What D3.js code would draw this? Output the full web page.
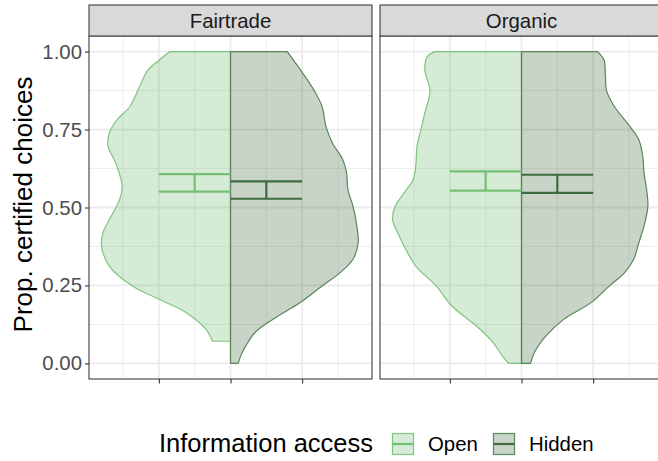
<!DOCTYPE html>
<html lang="en">
<head>
<meta charset="utf-8">
<title>Certified choices</title>
<script src="https://d3js.org/d3.v7.min.js"></script>
<style>
  body { margin: 0; background: #fff; }
  svg { display: block; font-family: "Liberation Sans", Arial, sans-serif; }
</style>
</head>
<body>
<div id="chart"></div>
<script>
  // facets and groups
  const panels = ["Fairtrade", "Organic"];
  const groups = ["Open", "Hidden"];

  // violin outlines: [proportion, relative density], top to bottom
  const fairtradeOpen = [
    [1.000, .47], [0.970, .56], [0.941, .64], [0.883, .71], [0.824, .78], [0.781, .88],
    [0.739, .94], [0.696, .95], [0.660, .91], [0.632, .88], [0.568, .84], [0.525, .86],
    [0.461, .94], [0.418, .99], [0.376, 1.0], [0.312, .94], [0.248, .76], [0.205, .55],
    [0.162, .34], [0.109, .19], [0.071, .14]
  ];
  const fairtradeHidden = [
    [1.000, .44], [0.931, .56], [0.874, .65], [0.824, .71], [0.760, .74], [0.707, .79],
    [0.654, .87], [0.611, .90], [0.558, .91], [0.504, .95], [0.440, .98], [0.387, .99],
    [0.334, .95], [0.291, .85], [0.248, .71], [0.195, .54], [0.142, .33], [0.099, .19],
    [0.057, .12], [0.025, .08], [0.000, .06]
  ];
  const organicOpen = [
    [1.000, .67], [0.984, .73], [0.941, .75], [0.874, .71], [0.803, .75], [0.749, .78],
    [0.696, .81], [0.632, .82], [0.590, .84], [0.547, .91], [0.504, .98], [0.462, 1.0],
    [0.419, .96], [0.376, .91], [0.312, .82], [0.248, .66], [0.184, .54], [0.120, .35],
    [0.067, .22], [0.025, .15], [0.000, .10]
  ];
  const organicHidden = [
    [1.000, .59], [0.973, .64], [0.931, .65], [0.874, .66], [0.824, .72], [0.760, .84],
    [0.717, .91], [0.664, .94], [0.611, .95], [0.558, .97], [0.504, .98], [0.440, .95],
    [0.387, .91], [0.334, .87], [0.291, .80], [0.248, .68], [0.195, .54], [0.142, .33],
    [0.088, .19], [0.035, .10], [0.000, .07]
  ];
  const violins = [[fairtradeOpen, fairtradeHidden], [organicOpen, organicHidden]];

  // error bars (per panel: Open, Hidden)
  const barLower = [[0.551, 0.528], [0.554, 0.547]];
  const barUpper = [[0.607, 0.584], [0.616, 0.605]];

  const yTicks = [0, 0.25, 0.5, 0.75, 1];
  const yMinor = [0.125, 0.375, 0.625, 0.875];
  const xTicks = [-1, 0, 1];
  const xMinor = [-1.5, -0.5, 0.5, 1.5];

  const width = 658, height = 461;
  const panelTop = 36, panelBottom = 379, panelW = 283, stripTop = 5;
  const panelLeft = [89, 380];
  const halfWidth = 1.8;

  const fillCol = { Open: "rgba(100,180,100,0.27)", Hidden: "rgba(60,100,60,0.28)" };
  const lineCol = { Open: "#7fc47f", Hidden: "#5a865a" };
  const barCol = { Open: "#74bf74", Hidden: "#3f6b3f" };

  const svg = d3.select("#chart").append("svg")
    .attr("width", width)
    .attr("height", height);

  const y = d3.scaleLinear().domain([-0.05, 1.05]).range([panelBottom, panelTop]);
  const x = d3.scaleLinear().domain([-1.975, 1.975]).range([0, panelW]);

  function violinPath(pts, side) {
    const line = d3.line()
      .x(d => x(side * d[1] * halfWidth))
      .y(d => y(d[0]))
      .curve(d3.curveCatmullRom);
    const top = pts[0][0], bot = pts[pts.length - 1][0];
    return "M" + x(0) + "," + y(top) + line(pts).replace(/^M/, "L") +
      "L" + x(0) + "," + y(bot) + "Z";
  }

  panels.forEach(function(name, i) {
    const g = svg.append("g").attr("transform", "translate(" + panelLeft[i] + ",0)");

    g.append("rect")
      .attr("x", 0).attr("y", panelTop)
      .attr("width", panelW).attr("height", panelBottom - panelTop)
      .attr("fill", "#fff");

    // grid
    g.selectAll(".hminor").data(yMinor).enter().append("line")
      .attr("x1", 0).attr("x2", panelW)
      .attr("y1", d => y(d)).attr("y2", d => y(d))
      .attr("stroke", "#ebebeb").attr("stroke-width", 0.9);
    g.selectAll(".vminor").data(xMinor).enter().append("line")
      .attr("x1", d => x(d)).attr("x2", d => x(d))
      .attr("y1", panelTop).attr("y2", panelBottom)
      .attr("stroke", "#ebebeb").attr("stroke-width", 0.9);
    g.selectAll(".hmajor").data(yTicks).enter().append("line")
      .attr("x1", 0).attr("x2", panelW)
      .attr("y1", d => y(d)).attr("y2", d => y(d))
      .attr("stroke", "#ebebeb").attr("stroke-width", 1.8);
    g.selectAll(".vmajor").data(xTicks).enter().append("line")
      .attr("x1", d => x(d)).attr("x2", d => x(d))
      .attr("y1", panelTop).attr("y2", panelBottom)
      .attr("stroke", "#ebebeb").attr("stroke-width", 1.8);

    // violins
    groups.forEach(function(grp, j) {
      const side = j === 0 ? -1 : 1;
      g.append("path")
        .attr("d", violinPath(violins[i][j], side))
        .attr("fill", fillCol[grp])
        .attr("stroke", lineCol[grp])
        .attr("stroke-width", 1.2)
        .attr("stroke-linejoin", "round");
    });

    // error bars
    groups.forEach(function(grp, j) {
      const side = j === 0 ? -1 : 1;
      const lo = barLower[i][j], hi = barUpper[i][j];
      const eb = g.append("g")
        .attr("stroke", barCol[grp])
        .attr("stroke-width", 2.2);
      [lo, hi].forEach(function(v) {
        eb.append("line")
          .attr("x1", x(0)).attr("x2", x(side))
          .attr("y1", y(v)).attr("y2", y(v));
      });
      eb.append("line")
        .attr("x1", x(side * 0.5)).attr("x2", x(side * 0.5))
        .attr("y1", y(lo)).attr("y2", y(hi));
    });

    // border
    g.append("rect")
      .attr("x", 0).attr("y", panelTop)
      .attr("width", panelW).attr("height", panelBottom - panelTop)
      .attr("fill", "none").attr("stroke", "#4d4d4d").attr("stroke-width", 1.2);

    // strip
    g.append("rect")
      .attr("x", 0).attr("y", stripTop)
      .attr("width", panelW).attr("height", panelTop - stripTop)
      .attr("fill", "#d9d9d9").attr("stroke", "#4d4d4d").attr("stroke-width", 1.2);
    g.append("text")
      .attr("x", panelW / 2).attr("y", (stripTop + panelTop) / 2)
      .attr("dy", "0.36em")
      .attr("text-anchor", "middle")
      .attr("font-size", "20.4px")
      .attr("fill", "#1a1a1a")
      .text(name);

    // x axis ticks, no labels
    const xa = g.append("g")
      .attr("transform", "translate(0," + panelBottom + ")")
      .call(d3.axisBottom(x).tickValues(xTicks).tickFormat("").tickSize(4.5));
    xa.select(".domain").remove();
    xa.selectAll("line").attr("stroke", "#333").attr("stroke-width", 1.1);

    if (i === 0) {
      const ya = g.append("g")
        .call(d3.axisLeft(y).tickValues(yTicks).tickFormat(d3.format(".2f"))
          .tickSize(4).tickPadding(3));
      ya.select(".domain").remove();
      ya.selectAll("line").attr("stroke", "#333").attr("stroke-width", 1.1);
      ya.selectAll("text")
        .attr("font-family", "'Liberation Sans', Arial, sans-serif")
        .attr("font-size", "20.4px")
        .attr("fill", "#4d4d4d");
    }
  });

  // y axis title
  svg.append("text")
    .attr("transform", "translate(32," + ((panelTop + panelBottom) / 2 - 3) + ") rotate(-90)")
    .attr("text-anchor", "middle")
    .attr("font-size", "26px")
    .attr("fill", "#000")
    .text("Prop. certified choices");

  // legend
  const legend = svg.append("g");
  legend.append("text")
    .attr("x", 159).attr("y", 452)
    .attr("font-size", "25.5px")
    .attr("fill", "#000")
    .text("Information access");

  const keyX = [392, 493];
  const labX = [428, 529];
  groups.forEach(function(grp, j) {
    legend.append("rect")
      .attr("x", keyX[j] + 0.5).attr("y", 433.5)
      .attr("width", 21).attr("height", 21)
      .attr("fill", fillCol[grp])
      .attr("stroke", lineCol[grp])
      .attr("stroke-width", 1.2);
    legend.append("line")
      .attr("x1", keyX[j] + 1).attr("x2", keyX[j] + 21)
      .attr("y1", 444).attr("y2", 444)
      .attr("stroke", barCol[grp])
      .attr("stroke-width", 2.2);
    legend.append("text")
      .attr("x", labX[j]).attr("y", 451)
      .attr("font-size", "20.4px")
      .attr("fill", "#000")
      .text(grp);
  });
</script>
</body>
</html>
